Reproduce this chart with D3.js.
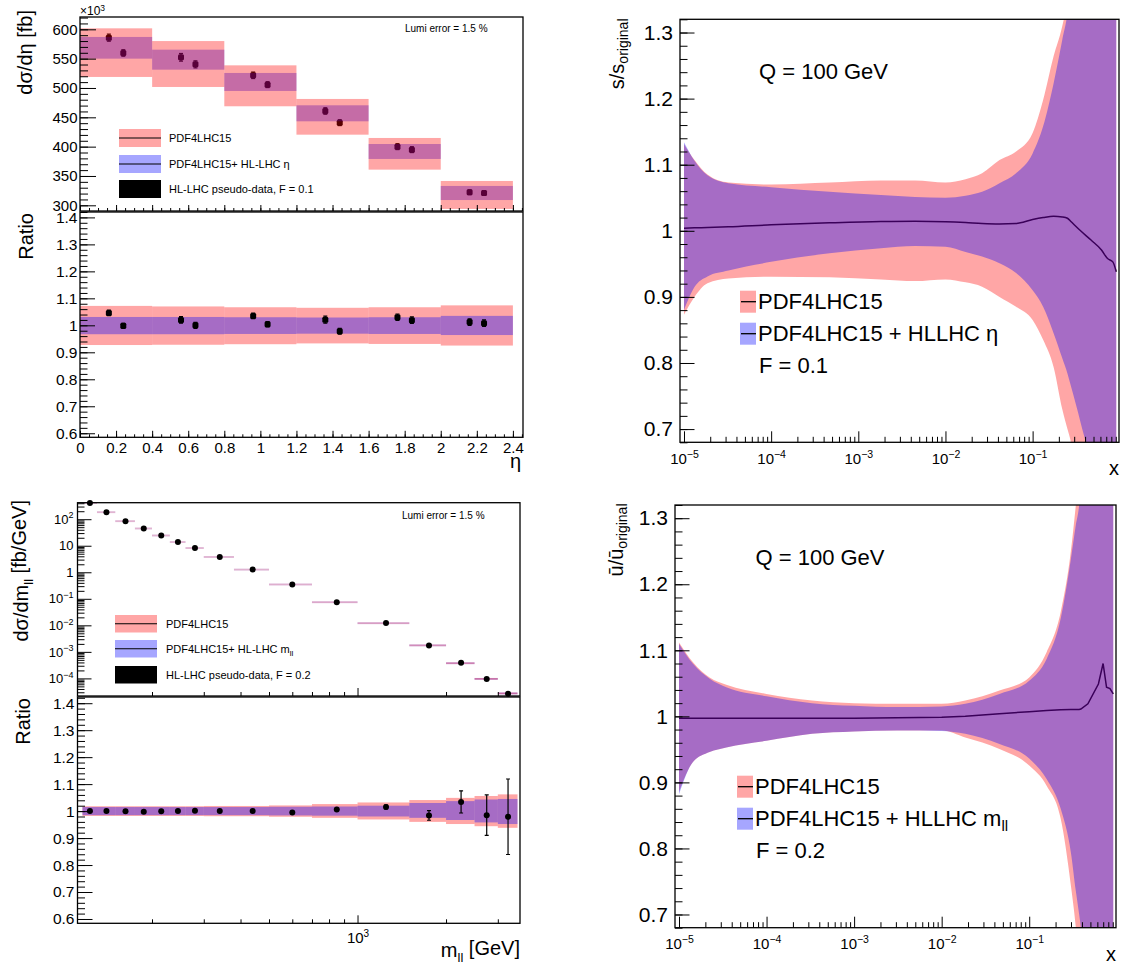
<!DOCTYPE html>
<html><head><meta charset="utf-8">
<script src="https://cdn.jsdelivr.net/npm/d3@7/dist/d3.min.js"></script>
<style>
html,body{margin:0;padding:0;background:#fff;}
svg text{font-family:"Liberation Sans",Arial,Helvetica,sans-serif;}
</style></head>
<body><svg id="chart" width="1125" height="968"></svg>
<script>
// ================= DATA =================
// --- Top-left: dσ/dη with HL-LHC pseudo-data
const etaEdges   = [0, 0.4, 0.8, 1.2, 1.6, 2.0, 2.4];
const etaRedUp   = [601.7, 580.0, 538.6, 481.3, 414.8, 341.5];
const etaRedLo   = [518.8, 501.7, 468.8, 420.4, 360.8, 293.8];
const etaBlueUp  = [587.0, 565.3, 525.6, 470.5, 404.5, 333.0];
const etaBlueLo  = [550.0, 531.2, 494.9, 443.2, 379.0, 309.0];
const etaDataX   = [0.16, 0.24, 0.56, 0.64, 0.96, 1.04, 1.36, 1.44, 1.76, 1.84, 2.16, 2.24];
const etaDataY   = [585.8, 559.7, 552.3, 540.3, 521.6, 505.7, 460.8, 440.9, 400.0, 394.9, 322.2, 321.0];
const etaDataErr = [6, 5.5, 6.5, 6, 5.5, 5, 5.5, 5, 5, 5, 4, 4];
const etaRatioY   = [1.046, 0.998, 1.020, 1.000, 1.035, 1.004, 1.021, 0.978, 1.030, 1.019, 1.012, 1.008];
const etaRatioErr = [0.010, 0.009, 0.012, 0.011, 0.010, 0.010, 0.013, 0.011, 0.012, 0.012, 0.012, 0.012];
const etaRatioRedUp  = [1.072, 1.070, 1.067, 1.065, 1.067, 1.074];
const etaRatioRedLo  = [0.927, 0.928, 0.930, 0.933, 0.931, 0.925];
const etaRatioBlueUp = [1.031, 1.031, 1.030, 1.029, 1.030, 1.035];
const etaRatioBlueLo = [0.967, 0.967, 0.968, 0.969, 0.968, 0.964];
const etaYTicks  = [300, 350, 400, 450, 500, 550, 600];
const etaXTicks  = [0, 0.2, 0.4, 0.6, 0.8, 1, 1.2, 1.4, 1.6, 1.8, 2, 2.2, 2.4];
const etaXLabels = ["0","0.2","0.4","0.6","0.8","1","1.2","1.4","1.6","1.8","2","2.2","2.4"];
const ratioYTicks  = [0.6, 0.7, 0.8, 0.9, 1, 1.1, 1.2, 1.3, 1.4];
const ratioYLabels = ["0.6","0.7","0.8","0.9","1","1.1","1.2","1.3","1.4"];

// --- Bottom-left: dσ/dm_ll
const mllEdges = [116,130,150,175,200,230,260,300,380,500,700,1000,1500,2000,2500,3000,3500];
const mllDataX = [123,140,162.5,187.5,215,245,280,340,440,600,850,1250,1750,2250,2750,3250];
const mllDataY = [410,184,84.3,44.6,24.3,13.8,8.2,3.77,1.26,0.345,0.0748,0.01222,0.00173,3.86e-4,9.45e-5,2.66e-5];
const mllRatioY   = [1.000,1.000,0.999,0.998,0.999,1.000,1.001,1.000,1.000,0.995,1.006,1.015,0.984,1.034,0.985,0.979];
const mllRatioErr = [0.002,0.002,0.002,0.002,0.002,0.002,0.002,0.002,0.002,0.002,0.003,0.007,0.018,0.041,0.075,0.140];
const mllRedUp  = [1.018,1.018,1.018,1.018,1.018,1.018,1.018,1.019,1.019,1.021,1.026,1.032,1.041,1.049,1.056,1.062];
const mllRedLo  = [0.982,0.982,0.982,0.982,0.982,0.982,0.982,0.981,0.981,0.979,0.975,0.969,0.960,0.952,0.944,0.938];
const mllBlueUp = [1.015,1.015,1.015,1.015,1.015,1.015,1.015,1.015,1.015,1.016,1.017,1.020,1.030,1.037,1.043,1.045];
const mllBlueLo = [0.985,0.985,0.985,0.985,0.985,0.985,0.985,0.985,0.985,0.984,0.983,0.980,0.975,0.967,0.958,0.952];
const mllYTicks  = [1e-4, 1e-3, 1e-2, 1e-1, 1, 10, 100];
const mllYLabels = [["10","−4"],["10","−3"],["10","−2"],["10","−1"],["1",""],["10",""],["10","2"]];
const mllXTicks  = [1000];
const mllXLabels = [["10","3"]];

// --- Top-right: s / s_original at Q = 100 GeV
const sX       = [1e-5,1.32e-5,1.86e-5,3.24e-5,1e-4,4.68e-4,1.82e-3,4.47e-3,1e-2,1.7e-2,2.63e-2,4.17e-2,6.46e-2,0.1,0.132,0.174,0.219,0.251,0.275,0.355,0.468,0.617,0.724,0.832,0.912];
const sRedUp   = [1.131,1.107,1.085,1.073,1.070,1.073,1.076,1.076,1.073,1.078,1.087,1.107,1.120,1.148,1.198,1.264,1.310,1.350,1.400,1.600,1.800,2.000,2.200,2.400,2.500];
const sRedLo   = [0.873,0.900,0.9205,0.928,0.9306,0.9296,0.9265,0.924,0.9265,0.922,0.9154,0.900,0.885,0.865,0.835,0.794,0.730,0.700,0.680,0.550,0.450,0.350,0.300,0.250,0.200];
const sBlueUp  = [1.134,1.106,1.084,1.072,1.066,1.059,1.054,1.051,1.050,1.053,1.059,1.072,1.087,1.117,1.158,1.223,1.289,1.330,1.380,1.550,1.800,2.000,2.200,2.400,2.500];
const sBlueLo  = [0.880,0.915,0.931,0.940,0.953,0.966,0.9735,0.977,0.976,0.968,0.961,0.951,0.936,0.910,0.885,0.845,0.807,0.784,0.765,0.710,0.640,0.500,0.400,0.300,0.200];
const sCentral = [1.004,1.0045,1.005,1.006,1.009,1.012,1.014,1.0145,1.0138,1.0125,1.011,1.0103,1.011,1.017,1.020,1.022,1.021,1.019,1.014,1.000,0.986,0.971,0.958,0.953,0.938];

// --- Bottom-right: ubar / ubar_original at Q = 100 GeV
const uX       = [1e-5,1.445e-5,2.24e-5,3.47e-5,1e-4,3.31e-4,1e-3,3.09e-3,1e-2,1.86e-2,4.57e-2,0.1,0.158,0.229,0.299,0.341,0.372,0.389,0.468,0.617,0.698,0.764,0.836,0.912];
const uRedUp   = [1.112,1.082,1.059,1.048,1.034,1.024,1.020,1.019,1.019,1.024,1.039,1.059,1.097,1.158,1.250,1.320,1.370,1.420,1.600,1.900,2.000,2.100,2.200,2.300];
const uRedLo   = [0.886,0.931,0.946,0.953,0.963,0.9735,0.977,0.9785,0.9785,0.968,0.9507,0.9255,0.895,0.845,0.744,0.680,0.620,0.600,0.500,0.400,0.350,0.300,0.250,0.200];
const uBlueUp  = [1.110,1.0795,1.057,1.044,1.0305,1.020,1.016,1.014,1.015,1.019,1.034,1.054,1.087,1.148,1.238,1.290,1.320,1.350,1.550,1.900,2.000,2.100,2.200,2.300];
const uBlueLo  = [0.882,0.931,0.946,0.953,0.963,0.9735,0.977,0.9785,0.978,0.9735,0.958,0.936,0.905,0.860,0.794,0.735,0.700,0.680,0.550,0.400,0.350,0.300,0.250,0.200];
const uCentral = [0.997,0.997,0.997,0.997,0.997,0.997,0.997,0.998,0.9987,1.000,1.004,1.007,1.009,1.010,1.0103,1.0103,1.0103,1.011,1.019,1.049,1.080,1.044,1.042,1.034];

const pdfYTicks  = [0.7, 0.8, 0.9, 1, 1.1, 1.2, 1.3];
const pdfYLabels = ["0.7","0.8","0.9","1","1.1","1.2","1.3"];
const xfracTicks = [1e-5, 1e-4, 1e-3, 1e-2, 1e-1];
const xfracLabels = [["10","−5"],["10","−4"],["10","−3"],["10","−2"],["10","−1"]];

// ================= DRAWING =================
const FONT = '"Liberation Sans", Arial, Helvetica, sans-serif';
const RED = "rgba(255,0,0,0.35)", BLUE = "rgba(0,0,255,0.35)";
const svg = d3.select("#chart");
const defs = svg.append("defs");

function clip(id, p){
  defs.append("clipPath").attr("id", id).append("rect")
    .attr("x", p.l).attr("y", p.t).attr("width", p.r - p.l).attr("height", p.b - p.t);
}
function frame(p){
  svg.append("rect").attr("x", p.l).attr("y", p.t).attr("width", p.r - p.l).attr("height", p.b - p.t)
    .attr("fill", "none").attr("stroke", "#000").attr("stroke-width", 1.3);
}
function styleAxis(a, fs){
  a.select(".domain").remove();
  a.selectAll("line").attr("stroke", "#000").attr("stroke-width", 1);
  a.selectAll("text").attr("font-size", fs).attr("fill", "#000").attr("font-family", FONT);
}
function leftAxis(scale, x, vals, len, fmt, fs, pad){
  const a = svg.append("g").attr("transform", `translate(${x},0)`)
    .call(d3.axisLeft(scale).tickValues(vals).tickSize(-len).tickPadding(pad || 3).tickFormat(fmt || (() => "")));
  styleAxis(a, fs || 10); return a;
}
function bottomAxis(scale, y, vals, len, fmt, fs, pad){
  const a = svg.append("g").attr("transform", `translate(0,${y})`)
    .call(d3.axisBottom(scale).tickValues(vals).tickSize(-len).tickPadding(pad || 3).tickFormat(fmt || (() => "")));
  styleAxis(a, fs || 10); return a;
}
function supLabels(a, labels, supFs){
  a.selectAll(".tick text").each(function(d, i){
    const t = d3.select(this); const [b, e] = labels[i];
    t.text(null); t.append("tspan").text(b);
    if (e) t.append("tspan").attr("dy", "-0.6em").attr("font-size", supFs).text(e);
  });
}
function logMinors(lo, hi, dom){
  const out = [];
  for (let n = lo; n <= hi; n++) for (let k = 2; k <= 9; k++){
    const v = k * Math.pow(10, n); if (v > dom[0] && v < dom[1]) out.push(v);
  }
  return out;
}
function linRange(a, b, s){ return d3.range(Math.round((b - a) / s) + 1).map(i => +(a + i * s).toFixed(6)); }
function rotText(x, y, parts, fs){
  const t = svg.append("text").attr("transform", `translate(${x},${y}) rotate(-90)`)
    .attr("text-anchor", "end").attr("font-size", fs).attr("font-family", FONT);
  parts.forEach(p => {
    const ts = t.append("tspan").text(p.t);
    if (p.fs) ts.attr("font-size", p.fs);
    if (p.dy) ts.attr("dy", p.dy);
  });
  return t;
}
function txt(x, y, parts, fs, anchor){
  const t = svg.append("text").attr("x", x).attr("y", y).attr("font-size", fs)
    .attr("font-family", FONT).attr("text-anchor", anchor || "start");
  parts.forEach(p => {
    const ts = t.append("tspan").text(p.t);
    if (p.fs) ts.attr("font-size", p.fs);
    if (p.dy) ts.attr("dy", p.dy);
  });
  return t;
}
function errBar(g, x, y0, y1, cap){
  g.append("line").attr("x1", x).attr("x2", x).attr("y1", y0).attr("y2", y1).attr("stroke", "#000").attr("stroke-width", 1.2);
  [y0, y1].forEach(yy => g.append("line").attr("x1", x - cap).attr("x2", x + cap).attr("y1", yy).attr("y2", yy).attr("stroke", "#000").attr("stroke-width", 1.2));
}

// ---------- TOP-LEFT ----------
const P1 = {l: 80, r: 523, t: 17, b: 211};
const P1r = {l: 80, r: 523, t: 212, b: 437.3};
clip("c1", P1); clip("c1r", P1r);
const xEta = d3.scaleLinear().domain([0, 2.456]).range([P1.l, P1.r]);
const yEta = d3.scaleLinear().domain([290.3, 621]).range([P1.b, P1.t]);
const yEtaR = d3.scaleLinear().domain([0.585, 1.42]).range([P1r.b, P1r.t]);

{
  const g = svg.append("g").attr("clip-path", "url(#c1)");
  etaDataX.forEach((x, i) => {
    errBar(g, xEta(x), yEta(etaDataY[i] - etaDataErr[i]), yEta(etaDataY[i] + etaDataErr[i]), 2);
    g.append("rect").attr("x", xEta(x) - 3).attr("y", yEta(etaDataY[i]) - 3).attr("width", 6).attr("height", 6).attr("rx", 1.5).attr("fill", "#000");
  });
  etaEdges.slice(0, -1).forEach((e, i) => {
    g.append("rect").attr("x", xEta(e)).attr("width", xEta(etaEdges[i+1]) - xEta(e))
      .attr("y", yEta(etaBlueUp[i])).attr("height", yEta(etaBlueLo[i]) - yEta(etaBlueUp[i])).attr("fill", BLUE);
  });
  etaEdges.slice(0, -1).forEach((e, i) => {
    g.append("rect").attr("x", xEta(e)).attr("width", xEta(etaEdges[i+1]) - xEta(e))
      .attr("y", yEta(etaRedUp[i])).attr("height", yEta(etaRedLo[i]) - yEta(etaRedUp[i])).attr("fill", RED);
  });
}
{
  const g = svg.append("g").attr("clip-path", "url(#c1r)");
  etaEdges.slice(0, -1).forEach((e, i) => {
    g.append("rect").attr("x", xEta(e)).attr("width", xEta(etaEdges[i+1]) - xEta(e))
      .attr("y", yEtaR(etaRatioRedUp[i])).attr("height", yEtaR(etaRatioRedLo[i]) - yEtaR(etaRatioRedUp[i])).attr("fill", RED);
  });
  etaEdges.slice(0, -1).forEach((e, i) => {
    g.append("rect").attr("x", xEta(e)).attr("width", xEta(etaEdges[i+1]) - xEta(e))
      .attr("y", yEtaR(etaRatioBlueUp[i])).attr("height", yEtaR(etaRatioBlueLo[i]) - yEtaR(etaRatioBlueUp[i])).attr("fill", BLUE);
  });
  etaDataX.forEach((x, i) => {
    errBar(g, xEta(x), yEtaR(etaRatioY[i] - etaRatioErr[i]), yEtaR(etaRatioY[i] + etaRatioErr[i]), 2);
    g.append("rect").attr("x", xEta(x) - 3).attr("y", yEtaR(etaRatioY[i]) - 3).attr("width", 6).attr("height", 6).attr("rx", 1.5).attr("fill", "#000");
  });
}
leftAxis(yEta, P1.l, linRange(290, 620, 10).filter(v => v >= 291 && v <= 620), 8);
leftAxis(yEta, P1.l, etaYTicks, 16, d => String(d), 15, 2.5);
bottomAxis(xEta, P1.b, linRange(0, 2.45, 0.05), 3);
bottomAxis(xEta, P1.b, etaXTicks, 6);
leftAxis(yEtaR, P1r.l, linRange(0.6, 1.42, 0.02), 7.5);
leftAxis(yEtaR, P1r.l, ratioYTicks, 15, (d, i) => ratioYLabels[i], 15.5, 2.5);
bottomAxis(xEta, P1r.b, linRange(0, 2.45, 0.05), 3);
bottomAxis(xEta, P1r.b, etaXTicks, 6.5, (d, i) => etaXLabels[i], 15, 5);
frame(P1); frame(P1r);
rotText(32, 10, [{t: "dσ/dη [fb]"}], 20);
rotText(33, 213, [{t: "Ratio"}], 20);
txt(P1r.r - 2, 468, [{t: "η"}], 20, "end");
txt(80, 15, [{t: "×10"}, {t: "3", fs: 8.5, dy: "-0.5em"}], 12);
txt(405, 32, [{t: "Lumi error = 1.5 %"}], 10);
[[129, RED, true], [155, BLUE, true], [180, "#000", false]].forEach(([y, c, ln]) => {
  svg.append("rect").attr("x", 119).attr("y", y).attr("width", 42).attr("height", 18).attr("fill", c);
  if (ln) svg.append("line").attr("x1", 119).attr("x2", 161).attr("y1", y + 9).attr("y2", y + 9).attr("stroke", "#000").attr("stroke-width", 1.2);
});
txt(169, 142, [{t: "PDF4LHC15"}], 11);
txt(169, 168, [{t: "PDF4LHC15+ HL-LHC η"}], 11);
txt(169, 193, [{t: "HL-LHC pseudo-data, F = 0.1"}], 11);

// ---------- BOTTOM-LEFT ----------
const P2 = {l: 77.5, r: 520, t: 502.7, b: 696};
const P2r = {l: 77.5, r: 520, t: 697, b: 923.3};
clip("c2", P2); clip("c2r", P2r);
const xM = d3.scaleLog().domain([111.6, 3569]).range([P2.l, P2.r]);
const yM = d3.scaleLog().domain([2.17e-5, 419]).range([P2.b, P2.t]);
const yMR = d3.scaleLinear().domain([0.584, 1.423]).range([P2r.b, P2r.t]);
{
  const g = svg.append("g").attr("clip-path", "url(#c2)");
  mllDataX.forEach((x, i) => {
    const c = mllDataY[i] / mllRatioY[i];
    const x0 = xM(mllEdges[i]), x1 = xM(mllEdges[i+1]);
    const ymid = yM(c);
    const hR = yM(c * mllRedLo[i]) - yM(c * mllRedUp[i]);
    const op = Math.min(1, 0.3 + hR * 0.5);
    const gb = g.append("g").attr("opacity", op);
    const hh = Math.max(hR, 1.8);
    gb.append("rect").attr("x", x0).attr("width", x1 - x0).attr("y", ymid - hh / 2).attr("height", hh).attr("fill", BLUE);
    gb.append("rect").attr("x", x0).attr("width", x1 - x0).attr("y", ymid - hh / 2).attr("height", hh).attr("fill", RED);
  });
}
mllDataX.forEach((x, i) => {
  svg.append("circle").attr("cx", xM(x)).attr("cy", yM(mllDataY[i])).attr("r", 3).attr("fill", "#000");
});
{
  const g = svg.append("g").attr("clip-path", "url(#c2r)");
  mllDataX.forEach((x, i) => {
    const x0 = xM(mllEdges[i]), x1 = xM(mllEdges[i+1]);
    g.append("rect").attr("x", x0).attr("width", x1 - x0).attr("y", yMR(mllRedUp[i])).attr("height", yMR(mllRedLo[i]) - yMR(mllRedUp[i])).attr("fill", RED);
  });
  mllDataX.forEach((x, i) => {
    const x0 = xM(mllEdges[i]), x1 = xM(mllEdges[i+1]);
    g.append("rect").attr("x", x0).attr("width", x1 - x0).attr("y", yMR(mllBlueUp[i])).attr("height", yMR(mllBlueLo[i]) - yMR(mllBlueUp[i])).attr("fill", BLUE);
  });
  mllDataX.forEach((x, i) => {
    if (mllRatioErr[i] > 0.004) errBar(g, xM(x), yMR(mllRatioY[i] - mllRatioErr[i]), yMR(mllRatioY[i] + mllRatioErr[i]), 2);
    g.append("circle").attr("cx", xM(x)).attr("cy", yMR(mllRatioY[i])).attr("r", 3).attr("fill", "#000");
  });
}
leftAxis(yM, P2.l, logMinors(-5, 2, yM.domain()), 7);
supLabels(leftAxis(yM, P2.l, mllYTicks, 14, d => "x", 13, 4), mllYLabels, 9);
bottomAxis(xM, P2.b, logMinors(2, 3, xM.domain()), 4);
bottomAxis(xM, P2.b, mllXTicks, 8);
leftAxis(yMR, P2r.l, linRange(0.6, 1.42, 0.02), 7.5);
leftAxis(yMR, P2r.l, ratioYTicks, 15, (d, i) => ratioYLabels[i], 15.5, 3);
bottomAxis(xM, P2r.b, logMinors(2, 3, xM.domain()), 4);
supLabels(bottomAxis(xM, P2r.b, mllXTicks, 8, d => "x", 15, 9), mllXLabels, 10);
frame(P2); frame(P2r);
rotText(28, 500, [{t: "dσ/dm"}, {t: "ll", fs: 13, dy: "0.35em"}, {t: " [fb/GeV]", dy: "-0.35em"}], 20);
rotText(30, 698, [{t: "Ratio"}], 20);
txt(P2r.r, 957, [{t: "m"}, {t: "ll", fs: 13, dy: "0.35em"}, {t: " [GeV]", dy: "-0.35em"}], 20, "end");
txt(402, 518.5, [{t: "Lumi error = 1.5 %"}], 10);
[[615, RED, true], [640, BLUE, true], [666, "#000", false]].forEach(([y, c, ln]) => {
  svg.append("rect").attr("x", 115).attr("y", y).attr("width", 42).attr("height", 17.5).attr("fill", c);
  if (ln) svg.append("line").attr("x1", 115).attr("x2", 157).attr("y1", y + 8.75).attr("y2", y + 8.75).attr("stroke", "#000").attr("stroke-width", 1.2);
});
txt(166, 628, [{t: "PDF4LHC15"}], 11);
txt(166, 653, [{t: "PDF4LHC15+ HL-LHC m"}, {t: "ll", fs: 8, dy: "0.35em"}], 11);
txt(166, 679, [{t: "HL-LHC pseudo-data, F = 0.2"}], 11);

// ---------- RIGHT PANELS ----------
function pdfPanel(P, id, X, rU, rL, bU, bL, cen, curveC){
  clip(id, P);
  const xs = d3.scaleLog().domain([9e-6, 0.98]).range([P.l, P.r]);
  const ys = d3.scaleLinear().domain([0.68, 1.32]).range([P.b, P.t]);
  const g = svg.append("g").attr("clip-path", `url(#${id})`);
  const d = X.map((x, i) => ({x, rU: rU[i], rL: rL[i], bU: bU[i], bL: bL[i], c: cen[i]}));
  g.append("path").datum(d).attr("fill", "none").attr("stroke", "#000").attr("stroke-width", 1.5)
    .attr("d", d3.line().x(p => xs(p.x)).y(p => ys(p.c)).curve(curveC));
  g.append("path").datum(d).attr("fill", RED)
    .attr("d", d3.area().x(p => xs(p.x)).y0(p => ys(p.rL)).y1(p => ys(p.rU)).curve(d3.curveMonotoneX));
  g.append("path").datum(d).attr("fill", BLUE)
    .attr("d", d3.area().x(p => xs(p.x)).y0(p => ys(p.bL)).y1(p => ys(p.bU)).curve(d3.curveMonotoneX));
  leftAxis(ys, P.l, linRange(0.68, 1.32, 0.02), 7.5);
  leftAxis(ys, P.l, pdfYTicks, 14.5, (v, i) => pdfYLabels[i], 21, 7);
  bottomAxis(xs, P.b, logMinors(-6, -1, xs.domain()), 5.5);
  supLabels(bottomAxis(xs, P.b, xfracTicks, 11, v => "x", 15, 11), xfracLabels, 10.5);
  frame(P);
  txt(P.r, P.b + 33, [{t: "x"}], 20, "end");
  return {xs, ys};
}
const P3 = {l: 680, r: 1119, t: 19.3, b: 442.3};
pdfPanel(P3, "c3", sX, sRedUp, sRedLo, sBlueUp, sBlueLo, sCentral, d3.curveMonotoneX);
rotText(624, 18.5, [{t: "s/s"}, {t: "original", fs: 14, dy: "0.3em"}], 20);
txt(759, 78.5, [{t: "Q = 100 GeV"}], 22);
[[290.7, RED], [322.7, BLUE]].forEach(([y, c]) => {
  svg.append("rect").attr("x", 740).attr("y", y).attr("width", 16).attr("height", 22).attr("fill", c);
  svg.append("line").attr("x1", 741).attr("x2", 756).attr("y1", y + 11).attr("y2", y + 11).attr("stroke", "#000").attr("stroke-width", 1.3);
});
txt(758, 308.5, [{t: "PDF4LHC15"}], 22);
txt(758, 340.5, [{t: "PDF4LHC15 + HLLHC η"}], 22);
txt(759, 372.7, [{t: "F = 0.1"}], 22);

const P4 = {l: 675, r: 1116, t: 505, b: 927.7};
pdfPanel(P4, "c4", uX, uRedUp, uRedLo, uBlueUp, uBlueLo, uCentral, d3.curveLinear);
rotText(623, 503.5, [{t: "ū/ū"}, {t: "original", fs: 14, dy: "0.3em"}], 20);
txt(755.5, 564.5, [{t: "Q = 100 GeV"}], 22);
[[775.7, RED], [807.7, BLUE]].forEach(([y, c]) => {
  svg.append("rect").attr("x", 737).attr("y", y).attr("width", 16).attr("height", 22).attr("fill", c);
  svg.append("line").attr("x1", 738).attr("x2", 753).attr("y1", y + 11).attr("y2", y + 11).attr("stroke", "#000").attr("stroke-width", 1.3);
});
txt(755, 793.5, [{t: "PDF4LHC15"}], 22);
txt(755, 825.7, [{t: "PDF4LHC15 + HLLHC m"}, {t: "ll", fs: 15, dy: "0.35em"}], 22);
txt(756, 857.7, [{t: "F = 0.2"}], 22);
</script></body></html>
